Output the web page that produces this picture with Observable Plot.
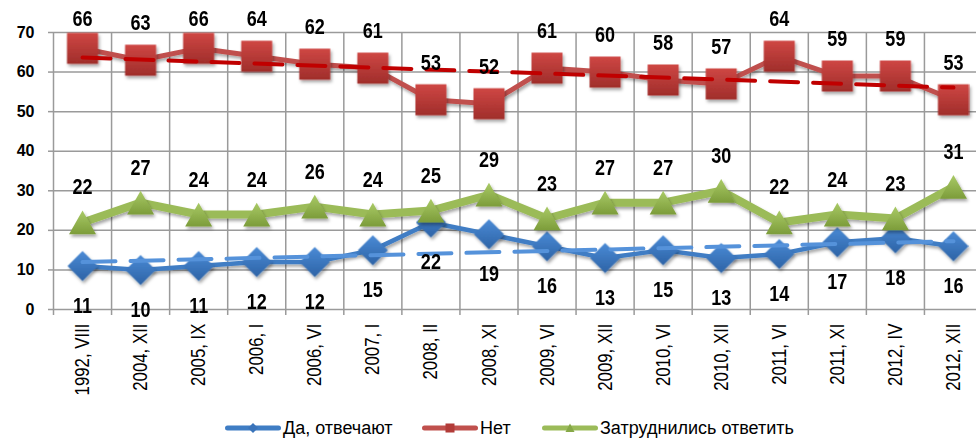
<!DOCTYPE html>
<html><head><meta charset="utf-8">
<script src="https://cdn.jsdelivr.net/npm/d3@7"></script>
<script src="https://cdn.jsdelivr.net/npm/@observablehq/plot@0.6"></script>
<style>
  html, body { margin: 0; padding: 0; background: #fff; overflow: hidden; }
  #wrap { width: 976px; height: 446px; position: relative; }
  #legend { position: relative; height: 36px; font-family: "Liberation Sans", Arial, sans-serif; font-size: 18px; color: #000; }
  .li { position: absolute; top: 0; height: 36px; display: flex; align-items: center; white-space: nowrap; }
  .li svg { display: block; margin-right: 2px; }
</style>
</head><body>
<div id="wrap"><div id="chart"></div><div id="legend"></div></div>
<script>
const categories = ["1992, VIII","2004, XII","2005, IX","2006, I","2006, VI","2007, I","2008, II","2008, XI","2009, VI","2009, XII","2010, VI","2010, XII","2011, VI","2011, XI","2012, IV","2012, XII"];
const yesValues  = [11,10,11,12,12,15,22,19,16,13,15,13,14,17,18,16];
const noValues   = [66,63,66,64,62,61,53,52,61,60,58,57,64,59,59,53];
const hardValues = [22,27,24,24,26,24,25,29,23,27,27,30,22,24,23,31];
const yTicks = [0,10,20,30,40,50,60,70];
const seriesNames = ["Да, отвечают", "Нет", "Затруднились ответить"];

const rows = categories.map((c, k) => ({i: k + 1, cat: c, yes: yesValues[k], no: noValues[k], hard: hardValues[k]}));
const idx = rows.map(d => d.i);
const bounds = d3.range(0.5, categories.length + 1, 1);

const BLUE = "#3F7DC4", RED = "#C0504D", GREEN = "#9BBB59";
const GRID = "#9a9a9a";
const FONT = "'Liberation Sans', Arial, sans-serif";

// symbols whose full width = sqrt(size)
const squareSym = {draw(ctx, size) { const s = Math.sqrt(size) / 2; ctx.moveTo(-s,-s); ctx.lineTo(s,-s); ctx.lineTo(s,s); ctx.lineTo(-s,s); ctx.closePath(); }};
const diamondSym = {draw(ctx, size) { const s = Math.sqrt(size) / 2; ctx.moveTo(0,-s); ctx.lineTo(s,0); ctx.lineTo(0,s); ctx.lineTo(-s,0); ctx.closePath(); }};
const triangleSym = {draw(ctx, size) { const w = Math.sqrt(size), h = w * 0.88; ctx.moveTo(0,-h/2); ctx.lineTo(w/2,h/2); ctx.lineTo(-w/2,h/2); ctx.closePath(); }};
const rFor = w => w / Math.sqrt(Math.PI);

const labelStyle = {fontSize: 22, fontWeight: "bold", fontFamily: FONT, fill: "#000"};

const chart = Plot.plot({
  width: 976, height: 410,
  marginTop: 32, marginLeft: 53, marginRight: 0, marginBottom: 101,
  x: {domain: [0.5, categories.length + 0.5], range: [53, 982], label: null},
  y: {domain: [0, 70], range: [309, 32], label: null},
  style: {fontFamily: FONT, color: "#000", background: "#fff", overflow: "visible"},
  marks: [
    Plot.ruleY(yTicks, {x1: 0.5, x2: categories.length + 0.5, stroke: GRID, strokeWidth: 1.5}),
    Plot.ruleX(bounds, {y1: 0, y2: 70, stroke: GRID, strokeWidth: 1.5}),
    Plot.axisX({ticks: bounds, tickFormat: () => "", tickSize: 6, stroke: GRID, strokeWidth: 1.5, strokeOpacity: 1}),
    Plot.axisX({ticks: idx, tickFormat: i => categories[i - 1], tickSize: 0, tickPadding: 14, tickRotate: -90, fontSize: 20.5, fontFamily: FONT, fill: "#000"}),
    Plot.axisY({ticks: yTicks, tickSize: 5, tickPadding: 14, stroke: GRID, strokeWidth: 1.5, strokeOpacity: 1, fontSize: 16, fontWeight: "bold", fill: "#000"}),

    Plot.line(rows, {x: "i", y: "yes", stroke: BLUE, strokeWidth: 4.5}),
    Plot.dot(rows, {x: "i", y: "yes", symbol: diamondSym, r: rFor(30), fill: "url(#gBlue)", stroke: "none"}),
    Plot.line(rows, {x: "i", y: "no", stroke: RED, strokeWidth: 5}),
    Plot.dot(rows, {x: "i", y: "no", symbol: squareSym, r: rFor(31), fill: "url(#gRed)", stroke: "none"}),
    Plot.line(rows, {x: "i", y: "hard", stroke: GREEN, strokeWidth: 8}),
    Plot.dot(rows, {x: "i", y: "hard", symbol: triangleSym, r: rFor(27), fill: "url(#gGreen)", stroke: "none"}),

    Plot.linearRegressionY(rows, {x: "i", y: "yes", stroke: "#5592DA", strokeWidth: 4, strokeDasharray: "33,15", ci: 0}),
    Plot.linearRegressionY(rows, {x: "i", y: "no", stroke: "#C00000", strokeWidth: 4, strokeDasharray: "28,15", ci: 0}),

    Plot.text(rows, {x: "i", y: "yes", text: "yes", dy: 40, ...labelStyle}),
    Plot.text(rows, {x: "i", y: d => Math.min(d.no, 64), text: "no", dy: -37, ...labelStyle}),
    Plot.text(rows, {x: "i", y: "hard", text: "hard", dy: -35, ...labelStyle})
  ]
});

const svg = d3.select(chart);

// condensed look of the original's labels: squeeze text along its baseline
function condense(sel, k) {
  sel.each(function() {
    const t = d3.select(this);
    const tr = t.attr("transform");
    if (tr) t.attr("transform", tr + ` scale(${k},1)`);
    else {
      const x = +t.attr("x") || 0, y = +t.attr("y") || 0;
      t.attr("x", null).attr("y", null).attr("transform", `translate(${x},${y}) scale(${k},1)`);
    }
  });
}
condense(svg.selectAll('g[aria-label="text"] text'), 0.82);
condense(svg.selectAll('g[aria-label="x-axis tick label"] text'), 0.82);

// gradients and soft shadows like the original
const defs = svg.insert("defs", ":first-child");
function grad(id, top, bottom) {
  const g = defs.append("linearGradient").attr("id", id).attr("x1", 0).attr("y1", 0).attr("x2", 0).attr("y2", 1);
  g.append("stop").attr("offset", "0%").attr("stop-color", top);
  g.append("stop").attr("offset", "100%").attr("stop-color", bottom);
}
grad("gBlue", "#4B8BD6", "#2D63A6");
grad("gRed", "#CF4744", "#A02E2B");
grad("gGreen", "#A9CA66", "#7C9C3A");
const f = defs.append("filter").attr("id", "shadow").attr("x", "-30%").attr("y", "-30%").attr("width", "160%").attr("height", "160%");
f.append("feDropShadow").attr("dx", 1.5).attr("dy", 2.5).attr("stdDeviation", 1.8).attr("flood-color", "#000").attr("flood-opacity", 0.35);
svg.selectAll('g[aria-label="dot"]').attr("filter", "url(#shadow)");
svg.selectAll('g[aria-label="line"]').attr("filter", "url(#shadow)");

document.getElementById("chart").appendChild(chart);

// legend
const legend = d3.select("#legend");
const items = [
  {name: seriesNames[0], color: BLUE, sym: "diamond", left: 225},
  {name: seriesNames[1], color: RED, sym: "square", left: 422},
  {name: seriesNames[2], color: GREEN, sym: "triangle", left: 542}
];
for (const it of items) {
  const d = legend.append("div").attr("class", "li").style("left", it.left + "px");
  const s = d.append("svg").attr("width", 56).attr("height", 16);
  s.append("line").attr("x1", 2.5).attr("x2", 53.5).attr("y1", 8).attr("y2", 8).attr("stroke", it.color).attr("stroke-width", 5).attr("stroke-linecap", "round");
  if (it.sym === "diamond") s.append("path").attr("d", "M28,3L33,8L28,13L23,8Z").attr("fill", "#3A74BA");
  if (it.sym === "square") s.append("rect").attr("x", 23.5).attr("y", 3.5).attr("width", 9).attr("height", 9).attr("fill", "#B23B38");
  if (it.sym === "triangle") s.append("path").attr("d", "M28,3.5L32.5,12L23.5,12Z").attr("fill", "#86A847");
  d.append("span").text(it.name);
}
</script>
</body></html>
